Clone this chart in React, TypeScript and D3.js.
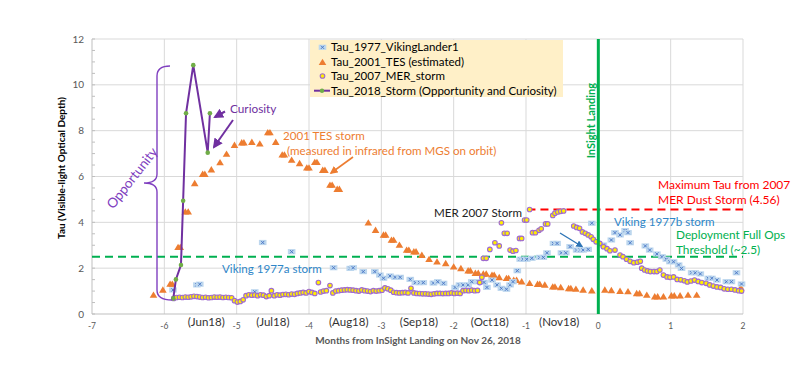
import React from "react";
import * as d3 from "d3";

type P = [number, number];

const viking1977: P[] = [
  [-5.88, 1.05], [-5.55, 1.27], [-5.51, 1.3],
  [-4.75, 0.97], [-4.64, 3.12], [-4.24, 2.72],
  [-3.66, 2.02], [-3.43, 1.99], [-3.39, 2.02], [-3.25, 1.85], [-3.09, 1.85], [-3.02, 1.7], [-2.97, 1.56],
  [-2.88, 1.66], [-2.81, 1.6], [-2.74, 1.6], [-2.6, 1.51], [-2.53, 1.37], [-2.47, 1.37], [-2.42, 1.37],
  [-2.28, 1.35], [-2.22, 1.41], [-2.14, 1.34], [-1.98, 1.16], [-1.92, 1.27], [-1.87, 1.27], [-1.8, 1.27],
  [-1.75, 1.41], [-1.66, 1.41], [-1.58, 1.38], [-1.54, 1.16], [-1.47, 1.48], [-1.4, 1.27], [-1.34, 1.12],
  [-1.27, 1.08], [-1.22, 1.27], [-1.18, 1.41], [-1.12, 1.89], [-1.08, 2.39], [-1.04, 2.39], [-0.99, 2.39],
  [-0.92, 2.43], [-0.81, 2.47], [-0.76, 2.47], [-0.71, 2.67], [-0.62, 3.08], [-0.57, 3.08], [-0.51, 2.67],
  [-0.45, 2.67], [-0.39, 2.94], [-0.3, 2.79], [-0.25, 2.79], [-0.21, 2.79], [-0.14, 2.82], [-0.09, 3.96],
  [0.07, 3.01], [0.18, 3.23], [0.23, 3.55], [0.3, 3.45], [0.37, 3.64], [0.41, 3.55], [0.44, 3.11],
  [0.65, 2.97], [0.71, 2.79], [0.81, 2.62], [0.88, 2.5], [0.94, 2.39], [0.99, 2.28], [1.04, 2.28],
  [1.11, 2.14], [1.15, 1.99], [1.29, 1.8], [1.34, 1.8], [1.41, 1.75], [1.52, 1.56], [1.57, 1.56],
  [1.64, 1.48], [1.77, 1.41], [1.84, 1.41], [1.91, 1.8], [1.98, 1.31],
];

const tes2001: P[] = [
  [-6.15, 0.83], [-6.02, 1.05], [-5.92, 1.31], [-5.89, 1.31], [-5.81, 2.91], [-5.78, 2.91], [-5.71, 4.46],
  [-5.67, 4.46], [-5.58, 5.7], [-5.47, 6.1], [-5.44, 6.1], [-5.35, 6.3], [-5.23, 6.61], [-5.14, 6.98],
  [-5.03, 7.37], [-4.93, 7.48], [-4.9, 7.48], [-4.79, 7.5], [-4.68, 7.43], [-4.57, 7.92], [-4.54, 7.92],
  [-4.46, 7.5], [-4.37, 6.95], [-4.34, 6.95], [-4.24, 6.72], [-4.13, 6.57], [-4.03, 6.38], [-4.0, 6.38],
  [-3.92, 6.62], [-3.89, 6.62], [-3.81, 6.28], [-3.78, 6.28], [-3.71, 5.63], [-3.68, 5.63], [-3.61, 5.45],
  [-3.58, 5.45],
  [-3.18, 3.98], [-3.08, 3.66], [-2.97, 3.45], [-2.94, 3.45], [-2.86, 3.23], [-2.83, 3.23], [-2.75, 3.01],
  [-2.65, 2.79], [-2.62, 2.79], [-2.55, 2.72], [-2.52, 2.72], [-2.44, 2.57], [-2.34, 2.39], [-2.23, 2.28],
  [-2.11, 2.21], [-2.0, 2.06], [-1.9, 1.99], [-1.8, 1.89], [-1.77, 1.89], [-1.7, 1.78], [-1.66, 1.78],
  [-1.59, 1.75], [-1.55, 1.75], [-1.47, 1.7], [-1.44, 1.7], [-1.37, 1.6], [-1.27, 1.56], [-1.24, 1.56],
  [-1.17, 1.48], [-1.13, 1.48], [-1.06, 1.41], [-0.95, 1.34], [-0.84, 1.3], [-0.81, 1.3], [-0.74, 1.27],
  [-0.63, 1.19], [-0.6, 1.19], [-0.52, 1.16], [-0.41, 1.12], [-0.38, 1.12], [-0.31, 1.09], [-0.21, 1.05],
  [-0.09, 1.02],
  [0.09, 1.05], [0.18, 1.03], [0.3, 1.0], [0.41, 0.98], [0.53, 0.9], [0.57, 0.9], [0.67, 0.83],
  [0.78, 0.76], [0.82, 0.76], [0.9, 0.76], [1.01, 0.8], [1.05, 0.8], [1.13, 0.8], [1.24, 0.83],
  [1.36, 0.83], [1.97, 1.15],
];

const mer2007: P[] = [
  [-5.87, 0.68], [-5.83, 0.72], [-5.79, 0.73], [-5.75, 0.72], [-5.71, 0.74], [-5.67, 0.73], [-5.63, 0.75],
  [-5.59, 0.77], [-5.55, 0.76], [-5.51, 0.74], [-5.47, 0.72], [-5.43, 0.73], [-5.39, 0.71], [-5.35, 0.72],
  [-5.31, 0.74], [-5.27, 0.73], [-5.23, 0.74], [-5.19, 0.72], [-5.15, 0.73], [-5.11, 0.72], [-5.07, 0.71],
  [-5.03, 0.58], [-4.99, 0.52], [-4.95, 0.55], [-4.91, 0.62],
  [-4.87, 0.8], [-4.83, 0.84], [-4.79, 0.82], [-4.75, 0.83], [-4.71, 0.8], [-4.67, 0.84], [-4.63, 0.82],
  [-4.59, 0.76], [-4.55, 0.8], [-4.52, 1.02], [-4.48, 0.8], [-4.44, 0.84], [-4.4, 0.82], [-4.36, 0.85],
  [-4.32, 0.86], [-4.28, 0.84], [-4.24, 0.87], [-4.2, 0.86], [-4.16, 0.9], [-4.12, 0.92], [-4.08, 0.94],
  [-4.04, 0.92], [-4.0, 0.98], [-3.96, 0.94], [-3.92, 0.9], [-3.87, 1.37], [-3.84, 0.96], [-3.8, 1.0],
  [-3.76, 1.02], [-3.71, 1.24], [-3.67, 0.92], [-3.63, 1.0], [-3.59, 1.02], [-3.55, 1.04], [-3.51, 1.05],
  [-3.47, 1.06], [-3.43, 1.05], [-3.39, 1.04], [-3.35, 1.02], [-3.31, 1.0], [-3.27, 1.05], [-3.23, 1.02],
  [-3.19, 1.0], [-3.15, 0.98], [-3.11, 1.02], [-3.07, 1.0], [-3.03, 1.02], [-2.99, 1.04], [-2.95, 1.14],
  [-2.91, 1.1], [-2.87, 1.04], [-2.83, 0.95], [-2.79, 0.93], [-2.75, 0.92], [-2.71, 0.93], [-2.67, 0.94],
  [-2.63, 0.92], [-2.59, 1.12], [-2.55, 0.92], [-2.51, 0.9], [-2.47, 0.89], [-2.43, 0.88], [-2.39, 0.88],
  [-2.35, 0.87], [-2.31, 0.86], [-2.27, 0.88], [-2.23, 0.9], [-2.19, 0.9], [-2.15, 0.89], [-2.11, 0.9],
  [-2.07, 0.9], [-2.03, 0.92], [-1.99, 0.9], [-1.95, 0.91], [-1.91, 0.9], [-1.87, 1.02], [-1.83, 1.03],
  [-1.79, 1.02], [-1.75, 1.04], [-1.71, 1.02], [-1.67, 1.03],
  [-1.64, 1.37], [-1.61, 1.6], [-1.59, 2.43], [-1.55, 2.43], [-1.5, 2.82], [-1.43, 3.11], [-1.37, 2.97],
  [-1.34, 3.98], [-1.3, 3.52], [-1.26, 3.52], [-1.22, 2.79], [-1.18, 2.74], [-1.14, 2.77], [-1.09, 3.3],
  [-1.06, 3.3], [-1.02, 4.1], [-0.99, 4.1], [-0.95, 4.56], [-0.91, 3.55], [-0.87, 3.55], [-0.82, 3.65],
  [-0.79, 3.72], [-0.73, 3.93], [-0.7, 3.93], [-0.63, 4.3], [-0.6, 4.4], [-0.56, 4.45], [-0.52, 4.48],
  [-0.48, 4.5],
  [-0.34, 3.84], [-0.3, 3.78], [-0.26, 3.74], [-0.22, 3.58], [-0.18, 3.52], [-0.14, 3.45], [-0.1, 3.37],
  [-0.07, 3.26], [-0.03, 3.15], [0.02, 3.08], [0.07, 2.94], [0.12, 2.85], [0.16, 2.76], [0.23, 2.79],
  [0.3, 2.57], [0.34, 2.5], [0.39, 2.39], [0.44, 2.3], [0.49, 2.24], [0.54, 2.26], [0.58, 2.3],
  [0.6, 2.0], [0.64, 1.92], [0.68, 1.88], [0.72, 1.85], [0.77, 1.85], [0.81, 1.85], [0.85, 1.92],
  [0.9, 1.7], [0.95, 1.62], [0.99, 1.6], [1.04, 1.62], [1.09, 1.51], [1.14, 1.49], [1.19, 1.45],
  [1.23, 1.4], [1.28, 1.44], [1.33, 1.48], [1.38, 1.42], [1.43, 1.37], [1.49, 1.34], [1.54, 1.27],
  [1.59, 1.22], [1.64, 1.18], [1.69, 1.16], [1.74, 1.1], [1.79, 1.08], [1.84, 1.08], [1.89, 1.05],
  [1.94, 1.02], [1.98, 1.0],
];

const storm2018: P[] = [
  [-5.876, 0.68], [-5.84, 1.51], [-5.77, 2.14], [-5.74, 4.94], [-5.7, 8.76], [-5.6, 10.86], [-5.4, 7.04], [-5.37, 8.76],
];

const xTicks = [-7, -6, -5, -4, -3, -2, -1, 0, 1, 2];
const yTicks = [0, 2, 4, 6, 8, 10, 12];
const monthLabels = ["(Jun18)", "(Jul18)", "(Aug18)", "(Sep18)", "(Oct18)", "(Nov18)"];
const monthPos = [-5.42, -4.5, -3.45, -2.48, -1.5, -0.54];
const legendLabels = [
  "Tau_1977_VikingLander1",
  "Tau_2001_TES (estimated)",
  "Tau_2007_MER_storm",
  "Tau_2018_Storm (Opportunity and Curiosity)",
];
const thresholdTau = 2.5;
const merMaxTau = 4.56;
const landingMonth = 0;

const FONT = "Lato, 'Open Sans', sans-serif";
const C_BLUE = "#4472C4";
const C_BLUE_FILL = "#BDD7EE";
const C_ORANGE = "#ED7D31";
const C_YELLOW = "#FFEE00";
const C_MER_RIM = "#9F6BCF";
const C_PURPLE = "#7030A0";
const C_GREEN_M = "#70AD47";
const C_GREEN = "#00B050";
const C_RED = "#FF0000";
const C_TXT_BLUE = "#2E86C8";

const Viking = ({ x, y }: { x: number; y: number }) => (
  <g>
    <rect x={x - 3.8} y={y - 2.6} width={7.6} height={5.2} fill={C_BLUE_FILL} />
    <path d={`M${x - 1.6},${y - 1.6}L${x + 1.6},${y + 1.6}M${x - 1.6},${y + 1.6}L${x + 1.6},${y - 1.6}`} stroke={C_BLUE} strokeWidth={0.9} />
  </g>
);
const Tri = ({ x, y }: { x: number; y: number }) => (
  <path d={`M${x},${y - 3.6}L${x + 3.8},${y + 2.8}L${x - 3.8},${y + 2.8}Z`} fill={C_ORANGE} />
);
const Mer = ({ x, y }: { x: number; y: number }) => (
  <circle cx={x} cy={y} r={2.3} fill={C_YELLOW} stroke={C_MER_RIM} strokeWidth={1.1} />
);

export default function App() {
  const x = d3.scaleLinear().domain([-7, 2]).range([92, 743]);
  const y = d3.scaleLinear().domain([0, 12]).range([314, 39]);
  const line = d3.line<P>().x((d) => x(d[0])).y((d) => y(d[1]));
  const minorY = d3.range(0, 12.01, 0.5);

  const x0 = x.range()[0], x1 = x.range()[1];
  const yb = y(0), yt = y(12);

  return (
    <svg width={800} height={375} style={{ position: "absolute", left: 0, top: 0, background: "#fff" }} fontFamily={FONT}>
      <defs>
        <marker id="ahP" viewBox="0 0 10 10" refX="8" refY="5" markerWidth="5" markerHeight="5" orient="auto">
          <path d="M0,0L10,5L0,10Z" fill={C_PURPLE} />
        </marker>
        <marker id="ahO" viewBox="0 0 10 10" refX="8" refY="5" markerWidth="5" markerHeight="5" orient="auto">
          <path d="M0,0L10,5L0,10Z" fill={C_ORANGE} />
        </marker>
        <marker id="ahB" viewBox="0 0 10 10" refX="8" refY="5" markerWidth="5" markerHeight="5" orient="auto">
          <path d="M0,0L10,5L0,10Z" fill="#2E75B6" />
        </marker>
      </defs>
      {/* grid */}
      {yTicks.filter((t) => t > 0).map((t) => (
        <line key={"gy" + t} x1={x0} x2={x1} y1={y(t)} y2={y(t)} stroke="#D9D9D9" strokeWidth={1} />
      ))}
      {xTicks.filter((t) => t > -7).map((t) => (
        <line key={"gx" + t} x1={x(t)} x2={x(t)} y1={yt} y2={yb} stroke="#D9D9D9" strokeWidth={1} />
      ))}
      {/* axes */}
      <line x1={x0} x2={x0} y1={yt} y2={yb} stroke="#BFBFBF" />
      <line x1={x0} x2={x1} y1={yb} y2={yb} stroke="#BFBFBF" />
      {minorY.map((t) => (
        <line key={"my" + t} x1={x0} x2={x0 + 3} y1={y(t)} y2={y(t)} stroke="#BFBFBF" />
      ))}
      {yTicks.map((t) => (
        <text key={"yl" + t} x={84} y={y(t)} dy="0.35em" textAnchor="end" fontSize={10} fill="#595959">{t}</text>
      ))}
      {xTicks.map((t) => (
        <text key={"xl" + t} x={x(t)} y={329} textAnchor="middle" fontSize={8.5} fill="#595959">{t}</text>
      ))}
      {monthLabels.map((m, i) => (
        <text key={m} x={x(monthPos[i])} y={326} textAnchor="middle" fontSize={11.5} fill="#333">{m}</text>
      ))}
      <text x={418} y={344} textAnchor="middle" fontSize={10} fontWeight="bold" fill="#595959">Months from InSight Landing on Nov 26, 2018</text>
      <text transform="translate(65,168) rotate(-90)" textAnchor="middle" fontSize={10} fontWeight="bold" fill="#000">Tau (Visible-light Optical Depth)</text>

      {/* reference lines */}
      <line x1={x0} x2={x1} y1={y(thresholdTau)} y2={y(thresholdTau)} stroke={C_GREEN} strokeWidth={2} strokeDasharray="8,5" />
      <line x1={x(-0.98)} x2={x1} y1={y(merMaxTau)} y2={y(merMaxTau)} stroke={C_RED} strokeWidth={2} strokeDasharray="8,5" />

      {/* data */}
      {tes2001.map((d, i) => <Tri key={"t" + i} x={x(d[0])} y={y(d[1])} />)}
      {viking1977.map((d, i) => <Viking key={"v" + i} x={x(d[0])} y={y(d[1])} />)}
      {mer2007.map((d, i) => <Mer key={"m" + i} x={x(d[0])} y={y(d[1])} />)}
      <path d={line(storm2018) || ""} fill="none" stroke={C_PURPLE} strokeWidth={2} />
      {storm2018.map((d, i) => <circle key={"s" + i} cx={x(d[0])} cy={y(d[1])} r={2.3} fill={C_GREEN_M} />)}

      {/* landing line */}
      <line x1={x(landingMonth)} x2={x(landingMonth)} y1={yt} y2={yb} stroke={C_GREEN} strokeWidth={3} />
      <text transform={`translate(${x(landingMonth) - 7},83) rotate(-90)`} textAnchor="end" dy="0.35em" fontSize={11} fontWeight="bold" fill={C_GREEN}>InSight Landing</text>

      {/* annotations */}
      <path d="M170,66 Q157,66 157,76 L157,174 Q157,183 144,183 Q157,183 157,192 L157,290 Q157,300 172,300" fill="none" stroke="#8040C0" strokeWidth={1.4} />
      <text transform="translate(132,178) rotate(-52)" textAnchor="middle" dy="0.35em" fontSize={13.5} fill="#8040C0">Opportunity</text>
      <text x={230} y={109} dy="0.35em" fontSize={11.8} fill="#7030A0">Curiosity</text>
      <line x1={225} y1={111.5} x2={215} y2={117} stroke={C_PURPLE} strokeWidth={2} markerEnd="url(#ahP)" />
      <line x1={233} y1={120} x2={214} y2={147} stroke={C_PURPLE} strokeWidth={2} markerEnd="url(#ahP)" />
      <text x={283} y={136} dy="0.35em" fontSize={11.6} fill={C_ORANGE}>2001 TES storm</text>
      <text x={287} y={151} dy="0.35em" fontSize={11.6} fill={C_ORANGE}>(measured in infrared from MGS on orbit)</text>
      <line x1={353} y1={157} x2={331} y2={173} stroke={C_ORANGE} strokeWidth={1.6} markerEnd="url(#ahO)" />
      <text x={222} y={269} dy="0.35em" fontSize={11.6} fill={C_TXT_BLUE}>Viking 1977a storm</text>
      <text x={434} y={213} dy="0.35em" fontSize={11.6} fill="#222">MER 2007 Storm</text>
      <line x1={560} y1={233} x2={582} y2={246.5} stroke="#2E75B6" strokeWidth={1.4} markerEnd="url(#ahB)" />
      <text x={614} y={222} dy="0.35em" fontSize={11.6} fill={C_TXT_BLUE}>Viking 1977b storm</text>
      <text x={658} y={185} dy="0.35em" fontSize={12} fill={C_RED}>Maximum Tau from 2007</text>
      <text x={658} y={200} dy="0.35em" fontSize={12} fill={C_RED}>MER Dust Storm (4.56)</text>
      <text x={676} y={235} dy="0.35em" fontSize={11.8} fill={C_GREEN}>Deployment Full Ops</text>
      <text x={676} y={250} dy="0.35em" fontSize={11.8} fill={C_GREEN}>Threshold (~2.5)</text>

      {/* legend */}
      <rect x={310} y={40} width={253} height={57} fill="#FFF0C8" />
      {legendLabels.map((l, i) => {
        const ly = [47.3, 62.3, 76, 90.7][i];
        return (
          <g key={l}>
            {i === 0 && <Viking x={322.5} y={ly} />}
            {i === 1 && <Tri x={322.5} y={ly} />}
            {i === 2 && <Mer x={322.5} y={ly} />}
            {i === 3 && (
              <g>
                <line x1={314} x2={330} y1={ly} y2={ly} stroke={C_PURPLE} strokeWidth={2} />
                <circle cx={322} cy={ly} r={2.2} fill={C_GREEN_M} />
              </g>
            )}
            <text x={331} y={ly} dy="0.35em" fontSize={11.5} fill="#000">{l}</text>
          </g>
        );
      })}
    </svg>
  );
}
